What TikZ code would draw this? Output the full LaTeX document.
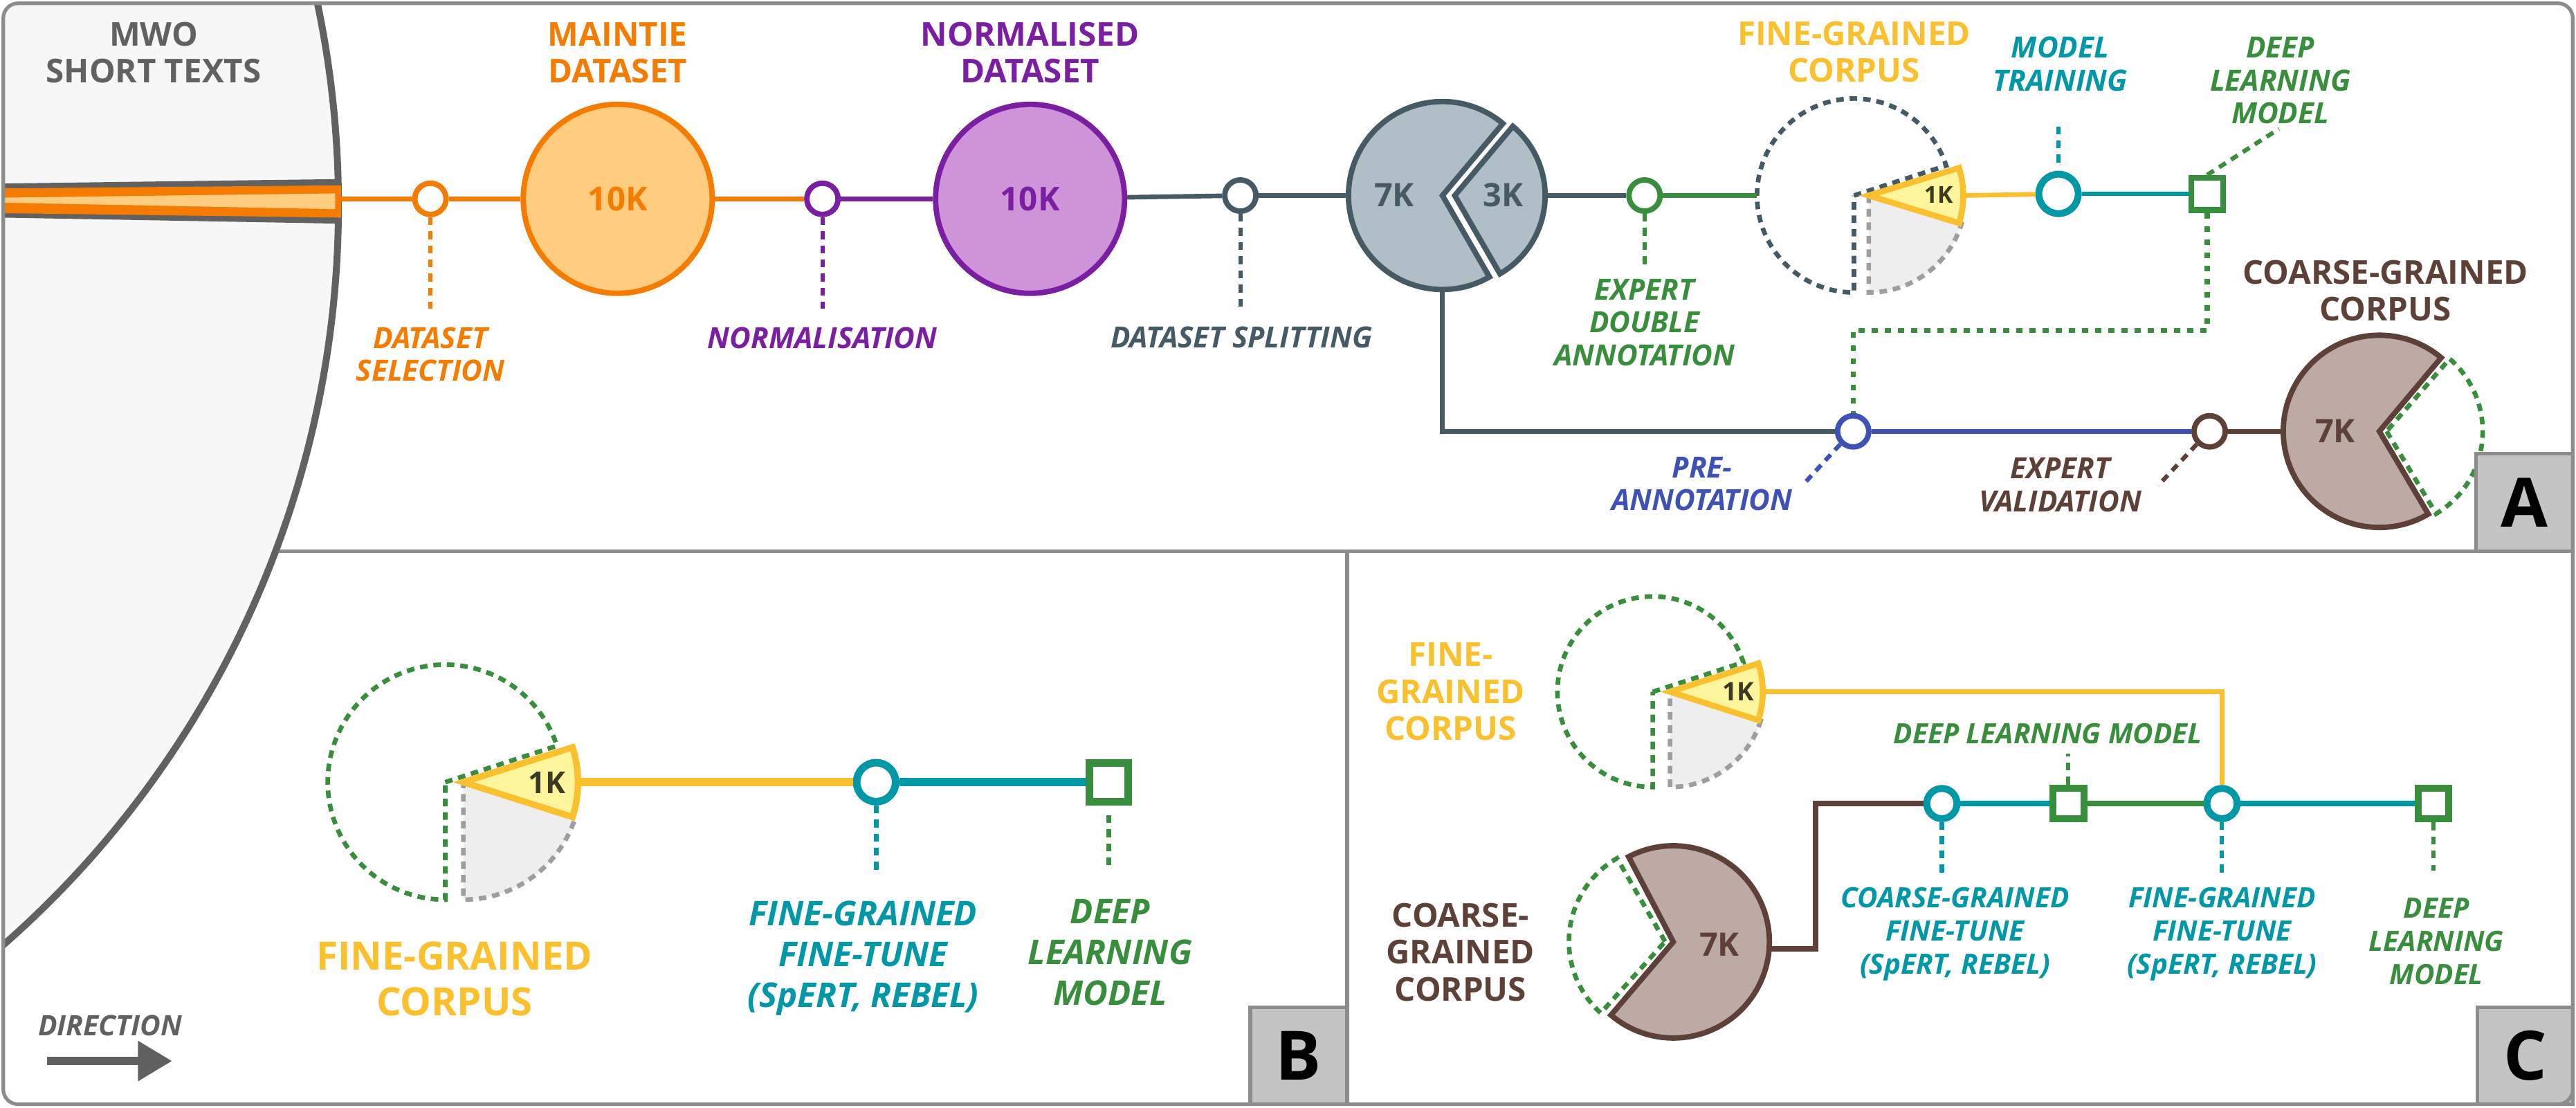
\documentclass[tikz,border=0pt]{standalone}
\usepackage{fontspec}
\setmainfont{Open Sans}
\usetikzlibrary{arrows.meta}

\newlength{\ovu}
\setlength{\ovu}{0.2374mm}

\definecolor{cOrange}{HTML}{F57C00}
\definecolor{cOrangeL}{HTML}{FFCC80}
\definecolor{cPurple}{HTML}{7B1FA2}
\definecolor{cPurpleL}{HTML}{CE93D8}
\definecolor{cSlate}{HTML}{455A64}
\definecolor{cSlateL}{HTML}{B0BEC5}
\definecolor{cGreen}{HTML}{388E3C}
\definecolor{cYellow}{HTML}{FBC02D}
\definecolor{cYellowL}{HTML}{FFF59D}
\definecolor{cTeal}{HTML}{0097A7}
\definecolor{cBlue}{HTML}{3F51B5}
\definecolor{cBrown}{HTML}{5D4037}
\definecolor{cBrownL}{HTML}{BCAAA4}
\definecolor{cInk}{HTML}{616161}
\definecolor{cFrame}{HTML}{8C8C8C}
\definecolor{cBox}{HTML}{C4C4C4}
\definecolor{cMwo}{HTML}{F7F7F7}
\definecolor{cRest}{HTML}{EEEEEE}
\definecolor{cRestD}{HTML}{9E9E9E}
\definecolor{cOne}{HTML}{3B3A24}

\tikzset{
	rule/.style={draw=cFrame, line width=2.2\ovu},
	mwoedge/.style={draw=cInk, line width=4.2\ovu},
	flow/.style={line width=2.8\ovu},
	flowB/.style={line width=4.8\ovu},
	flowC/.style={line width=3.2\ovu},
	stepdot/.style={circle, draw, fill=white, inner sep=0pt, minimum size=19\ovu, line width=3.3\ovu},
	stepC/.style={stepdot, minimum size=18.4\ovu, line width=4.2\ovu},
	bigdot/.style={circle, draw, inner sep=0pt, minimum size=115\ovu, line width=3.3\ovu, font=\fontsize{13.5}{15}\selectfont\bfseries},
	modelbox/.style={rectangle, draw=cGreen, fill=white, inner sep=0pt, minimum size=19.5\ovu, line width=3.6\ovu},
	leader/.style={line width=2.6\ovu, dash pattern=on 4.8\ovu off 3.8\ovu},
	dotleader/.style={line width=3\ovu, dash pattern=on 3.6\ovu off 4.4\ovu},
	ringdash/.style={line width=2.8\ovu, dash pattern=on 4.6\ovu off 3.6\ovu},
	piece/.style={line width=3.3\ovu},
	wedge/.style={draw=cYellow, fill=cYellowL, line width=3.6\ovu},
	rest/.style={ringdash, draw=cRestD, fill=cRest},
	num/.style={inner sep=0pt, font=\fontsize{13.3}{14}\selectfont\bfseries},
	onek/.style={inner sep=0pt, text=cOne, font=\fontsize{#1}{#1}\selectfont\bfseries},
	title/.style={align=center, font=\fontsize{13.5}{15.2}\selectfont\bfseries},
	titleB/.style={align=center, font=\fontsize{16}{18.9}\selectfont\bfseries},
	lbl/.style={align=center, font=\fontsize{12}{13.5}\selectfont\bfseries\itshape},
	lblB/.style={align=center, font=\fontsize{14}{16.8}\selectfont\bfseries\itshape},
	lblC/.style={align=center, font=\fontsize{11.5}{13.6}\selectfont\bfseries\itshape},
	labbox/.style={draw=cFrame, fill=cBox, line width=2.2\ovu, inner sep=0pt, minimum width=59\ovu, minimum height=59\ovu, font=\fontsize{28}{28}\selectfont\bfseries}
}

\begin{document}
\begin{tikzpicture}[x=0.2374mm, y=0.2374mm]
	\useasboundingbox (0,0) rectangle (1568,674);

	% panels
	\draw[rule] (150,338.5) -- (1566,338.5);
	\draw[rule] (820,2) -- (820,338.5);
	\begin{scope}
		\clip[rounded corners=9\ovu] (2,2) rectangle (1566,672);
		\fill[cMwo] (-392.5,549) ++(13:598.5) arc[start angle=13, end angle=-50, radius=598.5] -- (-10,90.5) -- (-10,684) -- cycle;
		\draw[mwoedge] (-392.5,549) ++(13:598.5) arc[start angle=13, end angle=-50, radius=598.5];
		\fill[cInk] (0,562.3) -- (206,565) -- (206,537.9) -- (0,541.6) -- cycle;
		\fill[cOrange] (0,559.3) -- (207.6,561.2) -- (207.6,541.6) -- (0,544.3) -- cycle;
		\fill[cOrangeL] (0,553.7) -- (204,556.3) -- (204,546.7) -- (0,550.7) -- cycle;
	\end{scope}
	\node[title, text=cInk] (mwoT) at (93.5,642) {MWO\\SHORT TEXTS};

	% panel A
	\coordinate (bandE) at (207.6,553);
	\node[stepdot, draw=cOrange] (selC) at (262,553) {};
	\node[bigdot, draw=cOrange, fill=cOrangeL, text=cOrange] (maint) at (376,553) {10K};
	\node[title, text=cOrange] (maintT) at (376,642) {MAINTIE\\DATASET};
	\node[stepdot, draw=cPurple] (normC) at (500.6,553) {};
	\node[bigdot, draw=cPurple, fill=cPurpleL, text=cPurple] (normd) at (627,553) {10K};
	\node[title, text=cPurple] (normdT) at (627,642) {NORMALISED\\DATASET};
	\node[stepdot, draw=cSlate] (splitC) at (755,555) {};

	\filldraw[piece, draw=cSlate, fill=cSlateL] (878,555) -- ++(50:57.2) arc[start angle=50, end angle=300, radius=57.2] -- cycle;
	\filldraw[piece, draw=cSlate, fill=cSlateL] (885.5,555) -- ++(-60:55) arc[start angle=-60, end angle=50, radius=55] -- cycle;
	\node[num, text=cSlate] (sevenA) at (848.6,555.5) {7K};
	\node[num, text=cSlate] (threeA) at (915,555.5) {3K};
	\coordinate (pie7W) at (820.8,555);
	\coordinate (pie7S) at (878,497.8);
	\coordinate (pie3E) at (940.5,555);

	\node[stepdot, draw=cGreen] (dblC) at (1001,555) {};
	\draw[ringdash, cSlate] (1128.5,555) -- ++(18:59) arc[start angle=18, end angle=270, radius=59] -- cycle;
	\filldraw[rest] (1137.5,555) -- ++(-17:59) arc[start angle=-17, end angle=-90, radius=59] -- cycle;
	\filldraw[wedge] (1137.5,555) -- ++(-17:57.5) arc[start angle=-17, end angle=17, radius=57.5] -- cycle;
	\node[onek=9.6] (oneA) at (1180,555.5) {1K};
	\node[title, text=cYellow] (fgAT) at (1128.5,642.5) {FINE-GRAINED\\CORPUS};
	\coordinate (fgAW) at (1069.5,555);
	\coordinate (wedgeAE) at (1195,555);

	\node[stepdot, draw=cTeal, minimum size=24\ovu, line width=4.2\ovu] (trainC) at (1253,556) {};
	\node[lbl, text=cTeal] (trT) at (1254,635) {MODEL\\TRAINING};
	\node[modelbox] (dlA) at (1343.5,556) {};
	\node[lbl, text=cGreen] (dlAT) at (1388,625) {DEEP\\LEARNING\\MODEL};
	\coordinate (dlTurn) at (1343.5,473);

	\node[stepdot, draw=cBlue] (preC) at (1128,411.5) {};
	\node[lbl, text=cBlue] (preT) at (1036,379.5) {PRE-\\ANNOTATION};
	\node[stepdot, draw=cBrown] (valC) at (1345,411.5) {};
	\node[lbl, text=cBrown] (valT) at (1254,379) {EXPERT\\VALIDATION};

	\filldraw[piece, draw=cBrown, fill=cBrownL] (1448.3,411.5) -- ++(50:58.5) arc[start angle=50, end angle=300.6, radius=58.5] -- cycle;
	\draw[ringdash, cGreen] (1452.7,411.5) -- ++(-59:58.5) arc[start angle=-59, end angle=49, radius=58.5] -- cycle;
	\node[num, text=cBrown] (sevenCg) at (1421.4,411.5) {7K};
	\node[title, text=cBrown] (cgAT) at (1452,497.2) {COARSE-GRAINED\\CORPUS};
	\coordinate (cgAW) at (1389.8,411.5);

	\draw[flow, cOrange] (bandE) -- (selC) -- (maint) -- (normC);
	\draw[flow, cPurple] (normC) -- (normd);
	\draw[flow, cSlate] (normd) -- (splitC) -- (pie7W);
	\draw[flow, cSlate] (pie3E) -- (dblC);
	\draw[flow, cGreen] (dblC) -- (fgAW);
	\draw[flow, cYellow] (wedgeAE) -- (trainC);
	\draw[flow, cTeal] (trainC) -- (dlA);
	\draw[flow, cSlate] (pie7S) |- (preC);
	\draw[flow, cBlue] (preC) -- (valC);
	\draw[flow, cBrown] (valC) -- (cgAW);
	\draw[dotleader, cGreen] (dlA.south) -- (dlTurn) -| (preC.north);

	\node[lbl, text=cOrange] (selT) at (262,458.4) {DATASET\\SELECTION};
	\node[lbl, text=cPurple] (normT) at (500.6,468.3) {NORMALISATION};
	\node[lbl, text=cSlate] (splitT) at (755.7,468.7) {DATASET SPLITTING};
	\node[lbl, text=cGreen] (dblT) at (1001,477.8) {EXPERT\\DOUBLE\\ANNOTATION};
	\coordinate (selE) at (262,486);
	\coordinate (normE) at (500.6,486);
	\coordinate (splitE) at (755,486);
	\coordinate (dblE) at (1001,512.3);
	\coordinate (trE) at (1253,599);
	\coordinate (dlAE) at (1387.2,595.6);
	\coordinate (preE) at (1097.5,379);
	\coordinate (valE) at (1313.6,378.5);
	\draw[leader, cOrange] (selC.south) -- (selE);
	\draw[leader, cPurple] (normC.south) -- (normE);
	\draw[leader, cSlate] (splitC.south) -- (splitE);
	\draw[leader, cGreen] (dblC.south) -- (dblE);
	\draw[leader, cTeal, shorten <=5\ovu] (trainC.north) -- (trE);
	\draw[leader, cGreen] (dlA.north) -- (dlAE);
	\draw[leader, cBlue] (preC.south west) -- (preE);
	\draw[leader, cBrown] (valC.south west) -- (valE);

	\node[labbox, minimum height=59.5\ovu] (boxA) at (1536.5,368.25) {A};

	% panel B
	\draw[ringdash, cGreen] (271,198) -- ++(18:71.5) arc[start angle=18, end angle=270, radius=71.5] -- cycle;
	\filldraw[rest] (282,198) -- ++(-17.7:71.5) arc[start angle=-17.7, end angle=-90, radius=71.5] -- cycle;
	\filldraw[wedge, line width=3.9\ovu] (282,198) -- ++(-17.7:69.8) arc[start angle=-17.7, end angle=17.7, radius=69.8] -- cycle;
	\node[onek=12.4] (oneB) at (332.8,197.5) {1K};
	\node[titleB, text=cYellow] (fgBT) at (276.6,78.2) {FINE-GRAINED\\CORPUS};
	\coordinate (fgBE) at (351.8,198);
	\node[stepdot, draw=cTeal, minimum size=23.7\ovu, line width=4.6\ovu] (bftC) at (533.3,198) {};
	\node[modelbox, minimum size=23.5\ovu, line width=4.6\ovu] (dlB) at (675,198) {};
	\draw[flowB, cYellow] (fgBE) -- (bftC);
	\draw[flowB, cTeal] (bftC) -- (dlB);
	\coordinate (bftE) at (533.3,144);
	\coordinate (dlBE) at (675,147);
	\draw[leader, cTeal, line width=3\ovu] (bftC.south) -- (bftE);
	\draw[leader, cGreen, line width=3\ovu, shorten <=6\ovu] (dlB.south) -- (dlBE);
	\node[lblB, text=cTeal] (bftT) at (525.4,90.7) {FINE-GRAINED\\FINE-TUNE\\(SpERT, REBEL)};
	\node[lblB, text=cGreen] (dlBT) at (675.7,94.3) {DEEP\\LEARNING\\MODEL};

	\node[text=cInk, font=\fontsize{11.6}{13}\selectfont\bfseries\itshape] (dirT) at (67,50) {DIRECTION};
	\coordinate (dirS) at (28.7,28.3);
	\coordinate (dirE) at (104.8,28.3);
	\draw[cInk, line width=4.8\ovu, -{Triangle[length=4.94mm, width=5.53mm]}] (dirS) -- (dirE);

	\node[labbox] (boxB) at (790.5,31.5) {B};

	% panel C
	\draw[ringdash, cGreen] (1006,253) -- ++(18:58) arc[start angle=18, end angle=270, radius=58] -- cycle;
	\filldraw[rest] (1016.5,253) -- ++(-17.8:58) arc[start angle=-17.8, end angle=-90, radius=58] -- cycle;
	\filldraw[wedge] (1016.5,253) -- ++(-17.8:56.5) arc[start angle=-17.8, end angle=17.8, radius=56.5] -- cycle;
	\node[onek=10.5] (oneC) at (1058,253) {1K};
	\node[title, text=cYellow] (fgCT) at (883,253) {FINE-\\GRAINED\\CORPUS};
	\coordinate (fgCE) at (1073,253);

	\filldraw[piece, draw=cBrown, fill=cBrownL] (1018.5,100.8) -- ++(117.7:58.5) arc[start angle=117.7, end angle=-130.4, radius=58.5] -- cycle;
	\draw[ringdash, cGreen] (1013.5,101) -- ++(120:58.5) arc[start angle=120, end angle=228, radius=58.5] -- cycle;
	\node[num, text=cBrown] (sevenC) at (1046.6,99) {7K};
	\node[title, text=cBrown] (cgCT) at (889,94.5) {COARSE-\\GRAINED\\CORPUS};
	\coordinate (cgCE) at (1077,96.7);
	\coordinate (cgBend) at (1105.1,185);

	\node[stepC, draw=cTeal] (cftC) at (1182,185) {};
	\node[modelbox, minimum size=18.7\ovu, line width=4.2\ovu] (dlC1) at (1259,185) {};
	\node[stepC, draw=cTeal] (fftC) at (1352.5,185) {};
	\node[modelbox, minimum size=18.7\ovu, line width=4.2\ovu] (dlC2) at (1481.3,185) {};
	\draw[flowC, cYellow] (fgCE) -| (fftC);
	\draw[flowC, cBrown] (cgCE) -| (cgBend) -- (cftC);
	\draw[flowC, cTeal] (cftC) -- (dlC1);
	\draw[flowC, cGreen] (dlC1) -- (fftC);
	\draw[flowC, cTeal] (fftC) -- (dlC2);

	\coordinate (dlC1E) at (1259,215.5);
	\coordinate (cftE) at (1182,142);
	\coordinate (fftE) at (1352.5,142);
	\coordinate (dlC2E) at (1481.3,144);
	\draw[leader, cGreen] (dlC1.north) -- (dlC1E);
	\draw[leader, cTeal] (cftC.south) -- (cftE);
	\draw[leader, cTeal] (fftC.south) -- (fftE);
	\draw[leader, cGreen] (dlC2.south) -- (dlC2E);
	\node[lblC, text=cGreen] (dlC1T) at (1246.5,227.6) {DEEP LEARNING MODEL};
	\node[lblC, text=cTeal] (cftT) at (1190,105.5) {COARSE-GRAINED\\FINE-TUNE\\(SpERT, REBEL)};
	\node[lblC, text=cTeal] (fftT) at (1352.5,105.5) {FINE-GRAINED\\FINE-TUNE\\(SpERT, REBEL)};
	\node[lblC, text=cGreen] (dlC2T) at (1483,101) {DEEP\\LEARNING\\MODEL};

	\node[labbox, minimum width=58\ovu] (boxC) at (1537,31.5) {C};

	\draw[rule, rounded corners=9\ovu] (2,2) rectangle (1566,672);
\end{tikzpicture}
\end{document}
